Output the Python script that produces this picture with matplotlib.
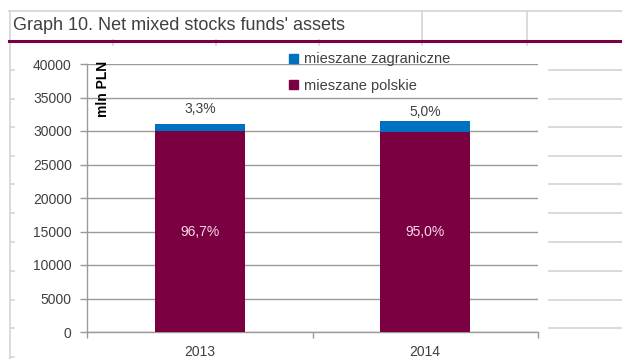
import matplotlib
matplotlib.use("Agg")
import matplotlib.pyplot as plt
from matplotlib.lines import Line2D
from matplotlib.patches import Patch
import numpy as np

# fund assets, mln PLN
years = ["2013", "2014"]
polskie = [29950, 29900]
zagraniczne = [1025, 1575]
series_names = ["mieszane zagraniczne", "mieszane polskie"]
yticks = [0, 5000, 10000, 15000, 20000, 25000, 30000, 35000, 40000]
title = "Graph 10. Net mixed stocks funds' assets"

MAROON = "#7B0041"
BLUE = "#0070C0"
GRID = "#9A9A9A"
CELL = "#D4D4D4"
TXT = "#404040"

plt.rcParams["font.family"] = ["Liberation Sans"]

W, H = 622, 359
fig = plt.figure(figsize=(W / 100, H / 100), dpi=100)


def fx(x):
    return x / W


def fy(y):
    return 1 - y / H


def hline(x0, x1, y, color=CELL, lw=1.2):
    fig.add_artist(Line2D([fx(x0), fx(x1)], [fy(y), fy(y)], color=color, lw=lw))


def vline(x, y0, y1, color=CELL, lw=1.2):
    fig.add_artist(Line2D([fx(x), fx(x)], [fy(y0), fy(y1)], color=color, lw=lw))


# spreadsheet cell borders around the chart
hline(9, W, 11)
vline(10, 11, H)
for x in (422, 527):
    vline(x, 11, 45)
for x in (113, 216, 319):
    vline(x, 40, 45)
rows = [70, 99, 127, 156, 184, 213, 242, 271, 300, 328, 357]
for y in rows:
    hline(10, 14, y)
for y in rows[:-1]:
    hline(549, W, y)
hline(9, W, 40.5, color=MAROON, lw=2.2)

fig.text(fx(13), fy(26), title, fontsize=13, color=TXT, va="center", ha="left")

ax = fig.add_axes([fx(87), fy(332), fx(538) - fx(87), fy(64) - fy(332)])
x = np.arange(len(years))
ax.bar(x, polskie, width=0.4, color=MAROON, zorder=3)
ax.bar(x, zagraniczne, width=0.4, bottom=polskie, color=BLUE, zorder=3)

ax.set_xlim(-0.5, 1.5)
ax.set_ylim(0, 40000)
ax.set_yticks(yticks)
ax.set_xticks(x)
ax.set_xticklabels(years)
ax.set_xticks([-0.5, 0.5, 1.5], minor=True)
ax.tick_params(axis="x", which="major", length=0, pad=9, labelsize=10, labelcolor=TXT)
ax.tick_params(axis="x", which="minor", length=4, color=GRID, width=1)
ax.tick_params(axis="y", length=5, color=GRID, width=1, pad=6, labelsize=10, labelcolor=TXT)
ax.yaxis.grid(True, color=GRID, lw=1)
ax.set_axisbelow(True)
for s in ("top", "right"):
    ax.spines[s].set_visible(False)
for s in ("left", "bottom"):
    ax.spines[s].set_color(GRID)
    ax.spines[s].set_linewidth(1)
ax.patch.set_alpha(0)

total = np.array(polskie) + np.array(zagraniczne)
top_offsets = [15, 9]
for i in range(len(years)):
    pz = zagraniczne[i] / total[i] * 100
    pp = polskie[i] / total[i] * 100
    ax.annotate(f"{pz:.1f}%".replace(".", ","), (x[i], total[i]), xytext=(0, top_offsets[i] * 0.72),
                textcoords="offset points", ha="center", va="center", fontsize=10, color=TXT)
    ax.text(x[i], polskie[i] / 2, f"{pp:.1f}%".replace(".", ","), ha="center", va="center",
            fontsize=10, color="#F2DCE6", zorder=4)

ax.text((103 - 87) / 451, (332 - 61) / 268, "mln PLN", rotation=90, fontsize=10,
        fontweight="bold", color="black", ha="center", va="top", transform=ax.transAxes)

handles = [Patch(color=BLUE), Patch(color=MAROON)]
ax.legend(handles, series_names, loc="upper left", bbox_to_anchor=((282 - 87) / 451, (332 - 45) / 268),
          frameon=False, fontsize=10.5, handlelength=0.6, handleheight=0.6, handletextpad=0.4,
          labelspacing=0.85, borderpad=0, labelcolor=TXT)

fig.savefig("out.png", dpi=100)
